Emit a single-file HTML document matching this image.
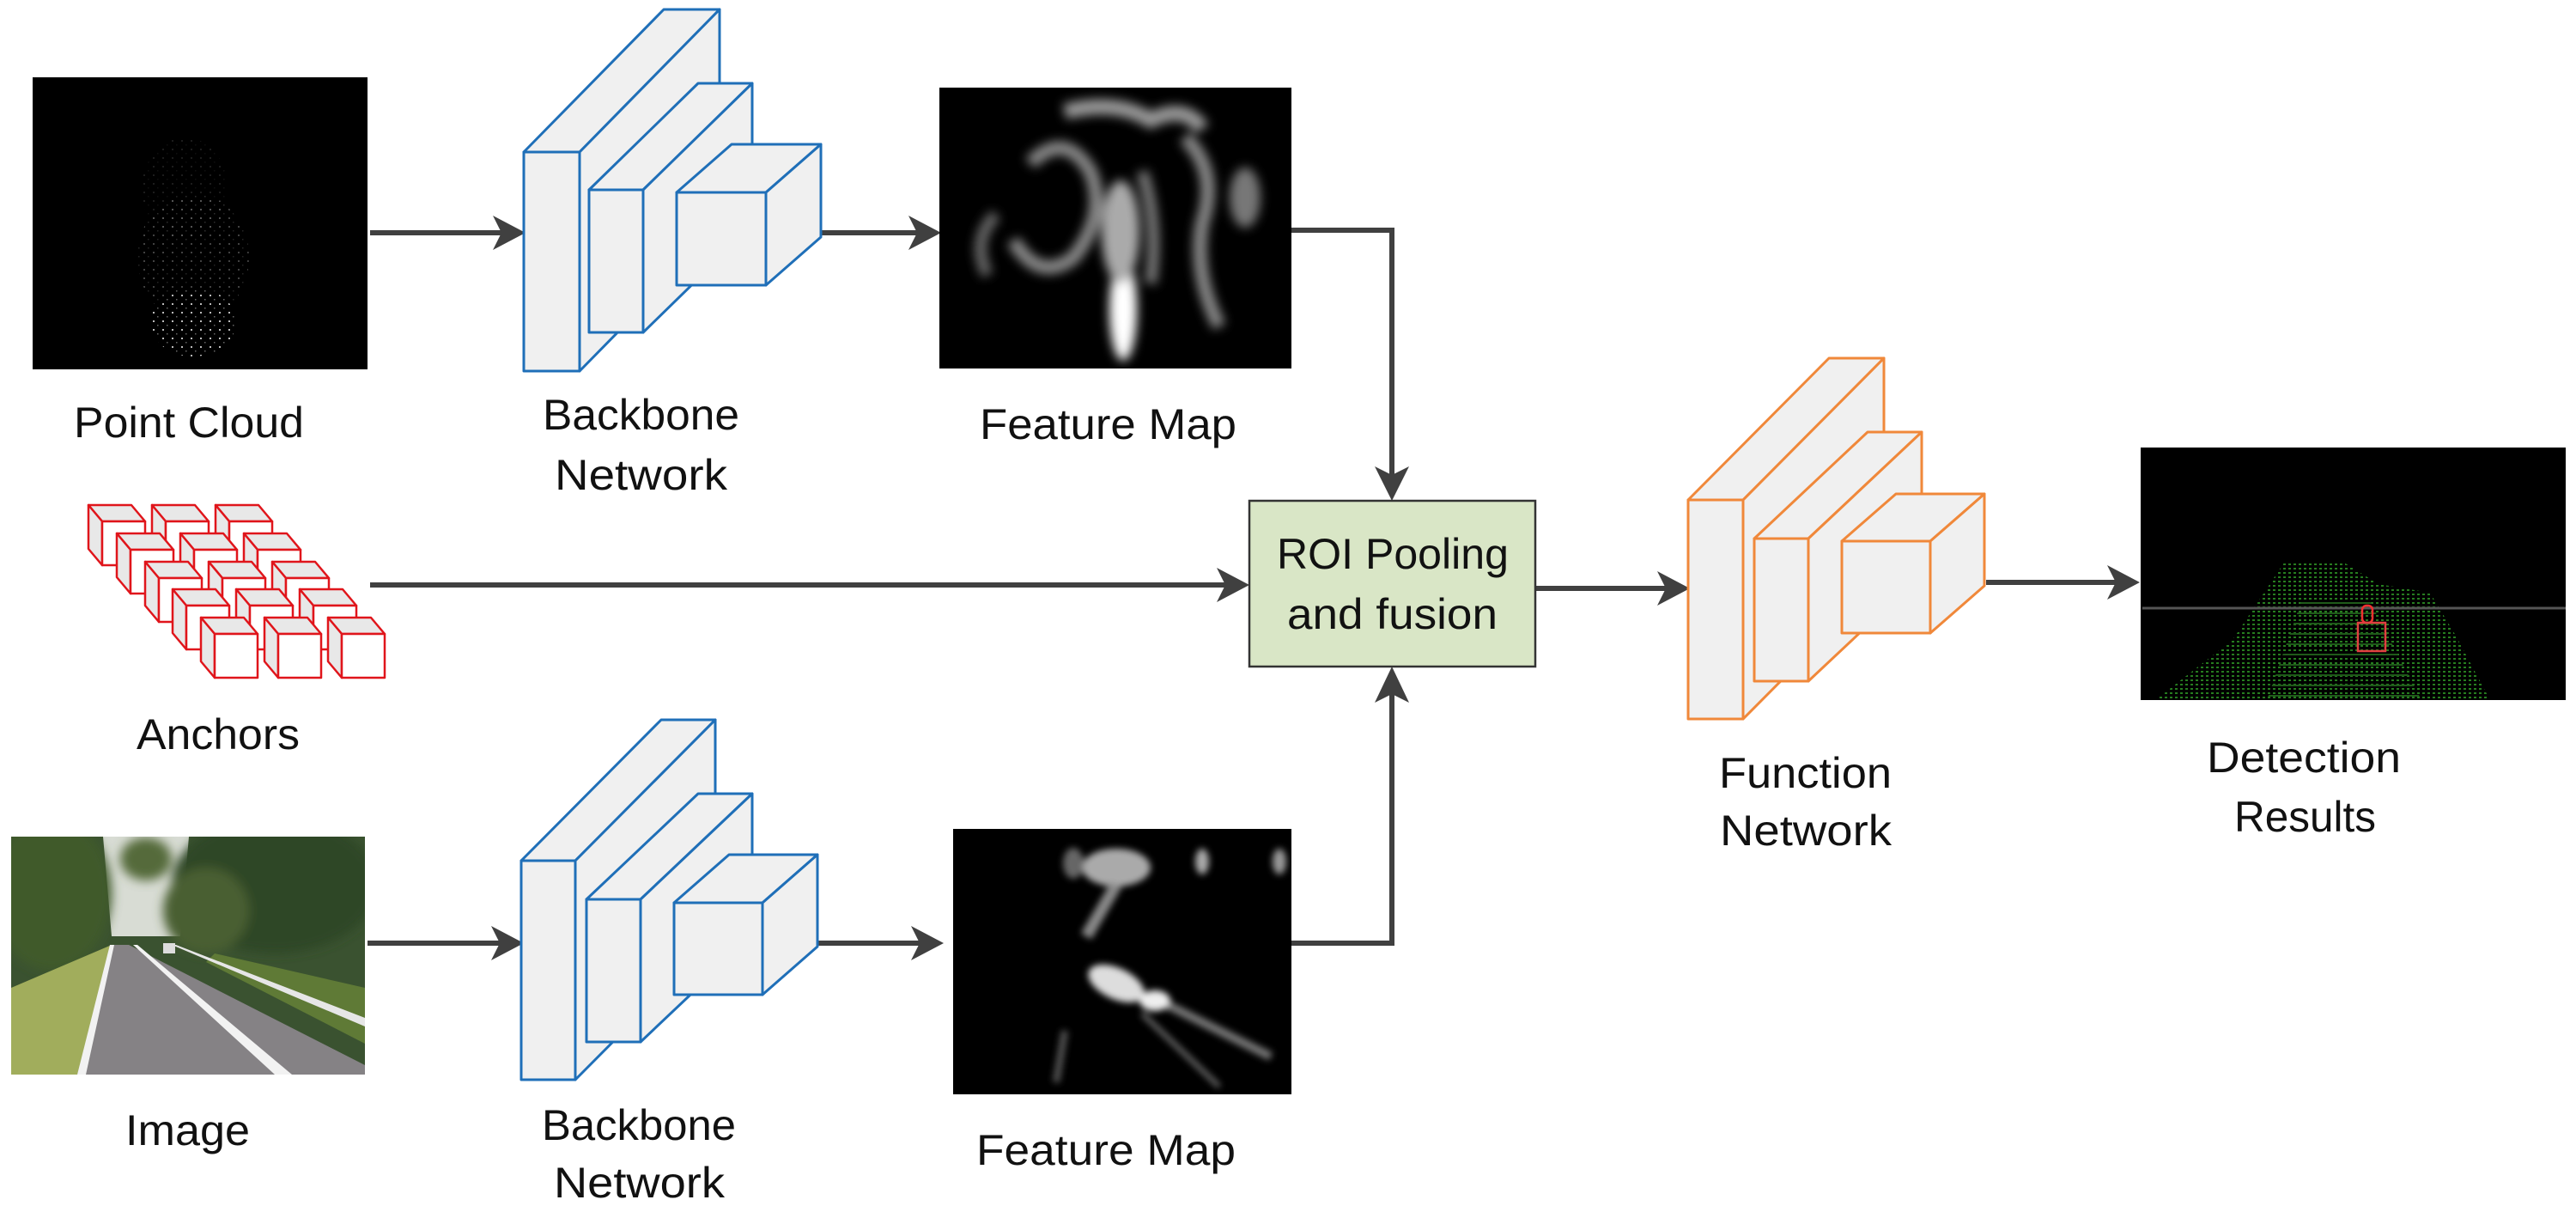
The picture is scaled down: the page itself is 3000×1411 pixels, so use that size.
<!DOCTYPE html>
<html><head><meta charset="utf-8"><style>
html,body{margin:0;padding:0;background:#fff;}
svg{display:block}
text{font-family:"Liberation Sans",sans-serif;font-size:50px;fill:#111;}
</style></head><body>
<svg width="3000" height="1411" viewBox="0 0 3000 1411" xmlns="http://www.w3.org/2000/svg">
<defs>
<filter id="b4" x="-20%" y="-20%" width="140%" height="140%"><feGaussianBlur stdDeviation="4"/></filter>
<filter id="b6" x="-20%" y="-20%" width="140%" height="140%"><feGaussianBlur stdDeviation="6"/></filter>
<pattern id="dots" width="11" height="10" patternUnits="userSpaceOnUse"><rect x="2" y="3" width="2" height="2" fill="#bbb"/><rect x="7" y="8" width="1.5" height="1.5" fill="#666"/></pattern>
<pattern id="gdots" width="6" height="5" patternUnits="userSpaceOnUse"><rect x="1" y="1" width="3" height="2" fill="#2a8a22"/></pattern>
<pattern id="glines" width="10" height="12" patternUnits="userSpaceOnUse"><rect x="0" y="5" width="10" height="2" fill="#1f5a1a"/></pattern>
<clipPath id="pcclip"><rect x="38" y="90" width="390" height="340"/></clipPath>
<clipPath id="imclip"><rect x="13" y="974" width="412" height="277"/></clipPath>
</defs>

<!-- Point cloud -->
<rect x="38" y="90" width="390" height="340" fill="#000"/>
<g clip-path="url(#pcclip)">
<ellipse cx="225" cy="375" rx="50" ry="40" fill="url(#dots)"/>
<ellipse cx="225" cy="300" rx="65" ry="75" fill="url(#dots)" opacity="0.35"/>
<ellipse cx="215" cy="220" rx="50" ry="60" fill="url(#dots)" opacity="0.15"/>
</g>
<text x="86" y="509" textLength="268" lengthAdjust="spacingAndGlyphs">Point Cloud</text>

<!-- arrows -->
<g stroke="#404040" stroke-width="6" fill="none">
<line x1="431" y1="271" x2="585" y2="271"/>
<line x1="956" y1="271" x2="1070" y2="271"/>
<polyline points="1504,268 1621,268 1621,555"/>
<line x1="431" y1="681" x2="1428" y2="681"/>
<line x1="1788" y1="685" x2="1940" y2="685"/>
<line x1="2313" y1="678" x2="2465" y2="678"/>
<line x1="428" y1="1098" x2="583" y2="1098"/>
<line x1="953" y1="1098" x2="1072" y2="1098"/>
<polyline points="1504,1098 1621,1098 1621,805"/>
</g>
<g fill="#404040">
<polygon points="612,271 574,251 584,271 574,291"/>
<polygon points="1096,271 1058,251 1068,271 1058,291"/>
<polygon points="1621,583 1601,543 1621,553 1641,543"/>
<polygon points="1455,681 1417,661 1427,681 1417,701"/>
<polygon points="1968,685 1930,665 1940,685 1930,705"/>
<polygon points="2492,678 2454,658 2464,678 2454,698"/>
<polygon points="610,1098 572,1078 582,1098 572,1118"/>
<polygon points="1099,1098 1061,1078 1071,1098 1061,1118"/>
<polygon points="1621,776 1601,818 1621,808 1641,818"/>
</g>

<!-- Backbone top -->
<g fill="#f0f0f0" stroke="#1f6fb8" stroke-width="3" stroke-linejoin="round">
<polygon points="610,177 675,177 838,11 773,11"/><polygon points="675,177 838,11 838,266 675,432"/><rect x="610" y="177" width="65" height="255"/>
<polygon points="686,221 749,221 876,97 813,97"/><polygon points="749,221 876,97 876,263 749,387"/><rect x="686" y="221" width="63" height="166"/>
<polygon points="788,224 892,224 956,168 852,168"/><polygon points="892,224 956,168 956,276 892,332"/><rect x="788" y="224" width="104" height="108"/>
</g>
<text x="632" y="500" textLength="229" lengthAdjust="spacingAndGlyphs">Backbone</text>
<text x="646" y="570" textLength="201" lengthAdjust="spacingAndGlyphs">Network</text>

<!-- Feature map top -->
<rect x="1094" y="102" width="410" height="327" fill="#000"/>
<g filter="url(#b6)">
<ellipse cx="1308" cy="360" rx="16" ry="60" fill="#fff"/>
<ellipse cx="1305" cy="270" rx="22" ry="60" fill="#aaa"/>
<path d="M1200 190 Q1240 150 1270 200 Q1290 250 1250 300 Q1210 330 1180 280" fill="none" stroke="#888" stroke-width="16"/>
<path d="M1380 160 Q1420 200 1400 260 Q1390 320 1420 380" fill="none" stroke="#888" stroke-width="16"/>
<path d="M1240 130 Q1300 115 1340 140 Q1380 120 1400 150" fill="none" stroke="#999" stroke-width="18"/>
<path d="M1330 200 Q1350 260 1340 330" fill="none" stroke="#777" stroke-width="14"/>
<path d="M1160 250 Q1130 280 1150 320" fill="none" stroke="#666" stroke-width="14"/>
<ellipse cx="1450" cy="230" rx="18" ry="35" fill="#777"/>
</g>
<text x="1141" y="511" textLength="299" lengthAdjust="spacingAndGlyphs">Feature Map</text>

<!-- Anchors -->
<g stroke="#e0151b" stroke-width="2.5" stroke-linejoin="round">
<g>
<g><polygon fill="#e8e8e8" points="119,607 169,607 153,588 103,588"/><polygon fill="#e8e8e8" points="119,607 103,588 103,639 119,658"/><rect fill="#fff" x="119" y="607" width="50" height="51"/></g>
<g><polygon fill="#e8e8e8" points="193,607 243,607 227,588 177,588"/><polygon fill="#e8e8e8" points="193,607 177,588 177,639 193,658"/><rect fill="#fff" x="193" y="607" width="50" height="51"/></g>
<g><polygon fill="#e8e8e8" points="267,607 317,607 301,588 251,588"/><polygon fill="#e8e8e8" points="267,607 251,588 251,639 267,658"/><rect fill="#fff" x="267" y="607" width="50" height="51"/></g>
</g>
<g transform="translate(33,33)">
<g><polygon fill="#e8e8e8" points="119,607 169,607 153,588 103,588"/><polygon fill="#e8e8e8" points="119,607 103,588 103,639 119,658"/><rect fill="#fff" x="119" y="607" width="50" height="51"/></g>
<g><polygon fill="#e8e8e8" points="193,607 243,607 227,588 177,588"/><polygon fill="#e8e8e8" points="193,607 177,588 177,639 193,658"/><rect fill="#fff" x="193" y="607" width="50" height="51"/></g>
<g><polygon fill="#e8e8e8" points="267,607 317,607 301,588 251,588"/><polygon fill="#e8e8e8" points="267,607 251,588 251,639 267,658"/><rect fill="#fff" x="267" y="607" width="50" height="51"/></g>
</g>
<g transform="translate(66,66)">
<g><polygon fill="#e8e8e8" points="119,607 169,607 153,588 103,588"/><polygon fill="#e8e8e8" points="119,607 103,588 103,639 119,658"/><rect fill="#fff" x="119" y="607" width="50" height="51"/></g>
<g><polygon fill="#e8e8e8" points="193,607 243,607 227,588 177,588"/><polygon fill="#e8e8e8" points="193,607 177,588 177,639 193,658"/><rect fill="#fff" x="193" y="607" width="50" height="51"/></g>
<g><polygon fill="#e8e8e8" points="267,607 317,607 301,588 251,588"/><polygon fill="#e8e8e8" points="267,607 251,588 251,639 267,658"/><rect fill="#fff" x="267" y="607" width="50" height="51"/></g>
</g>
<g transform="translate(98,98)">
<g><polygon fill="#e8e8e8" points="119,607 169,607 153,588 103,588"/><polygon fill="#e8e8e8" points="119,607 103,588 103,639 119,658"/><rect fill="#fff" x="119" y="607" width="50" height="51"/></g>
<g><polygon fill="#e8e8e8" points="193,607 243,607 227,588 177,588"/><polygon fill="#e8e8e8" points="193,607 177,588 177,639 193,658"/><rect fill="#fff" x="193" y="607" width="50" height="51"/></g>
<g><polygon fill="#e8e8e8" points="267,607 317,607 301,588 251,588"/><polygon fill="#e8e8e8" points="267,607 251,588 251,639 267,658"/><rect fill="#fff" x="267" y="607" width="50" height="51"/></g>
</g>
<g transform="translate(131,131)">
<g><polygon fill="#e8e8e8" points="119,607 169,607 153,588 103,588"/><polygon fill="#e8e8e8" points="119,607 103,588 103,639 119,658"/><rect fill="#fff" x="119" y="607" width="50" height="51"/></g>
<g><polygon fill="#e8e8e8" points="193,607 243,607 227,588 177,588"/><polygon fill="#e8e8e8" points="193,607 177,588 177,639 193,658"/><rect fill="#fff" x="193" y="607" width="50" height="51"/></g>
<g><polygon fill="#e8e8e8" points="267,607 317,607 301,588 251,588"/><polygon fill="#e8e8e8" points="267,607 251,588 251,639 267,658"/><rect fill="#fff" x="267" y="607" width="50" height="51"/></g>
</g>
</g>
<text x="159" y="872" textLength="190" lengthAdjust="spacingAndGlyphs">Anchors</text>

<!-- ROI box -->
<rect x="1455" y="583" width="333" height="193" fill="#d9e6c6" stroke="#333" stroke-width="2.5"/>
<text x="1487" y="662" textLength="270" lengthAdjust="spacingAndGlyphs">ROI Pooling</text>
<text x="1499" y="732" textLength="245" lengthAdjust="spacingAndGlyphs">and fusion</text>

<!-- Function network -->
<g fill="#f0f0f0" stroke="#f0883a" stroke-width="3" stroke-linejoin="round">
<polygon points="1966,582 2030,582 2194,417 2130,417"/><polygon points="2030,582 2194,417 2194,672 2030,837"/><rect x="1966" y="582" width="64" height="255"/>
<polygon points="2043,627 2106,627 2238,503 2175,503"/><polygon points="2106,627 2238,503 2238,669 2106,793"/><rect x="2043" y="627" width="63" height="166"/>
<polygon points="2145,630 2248,630 2311,575 2208,575"/><polygon points="2248,630 2311,575 2311,682 2248,737"/><rect x="2145" y="630" width="103" height="107"/>
</g>
<text x="2002" y="917" textLength="201" lengthAdjust="spacingAndGlyphs">Function</text>
<text x="2003" y="984" textLength="200" lengthAdjust="spacingAndGlyphs">Network</text>

<!-- Detection -->
<rect x="2493" y="521" width="495" height="294" fill="#000"/>
<polygon points="2510,815 2600,745 2660,655 2730,655 2770,680 2830,690 2860,740 2900,815" fill="url(#gdots)" opacity="0.9"/>
<polygon points="2640,815 2680,700 2760,700 2820,815" fill="url(#glines)"/>
<line x1="2495" y1="708" x2="2988" y2="708" stroke="#555" stroke-width="3"/>
<rect x="2751" y="705" width="12" height="20" rx="5" fill="none" stroke="#f03030" stroke-width="2.5"/>
<rect x="2746" y="725" width="32" height="33" fill="none" stroke="#e04040" stroke-width="2.5"/>
<text x="2570" y="899" textLength="226" lengthAdjust="spacingAndGlyphs">Detection</text>
<text x="2602" y="968" textLength="165" lengthAdjust="spacingAndGlyphs">Results</text>

<!-- Image -->
<g clip-path="url(#imclip)">
<rect x="13" y="974" width="412" height="277" fill="#3a5230"/>
<polygon points="120,974 220,974 210,1090 130,1090" fill="#d8dcd4"/>
<g filter="url(#b6)">
<ellipse cx="60" cy="1040" rx="70" ry="90" fill="#3f5a2c"/>
<ellipse cx="320" cy="1030" rx="120" ry="80" fill="#2f4726"/>
<ellipse cx="240" cy="1060" rx="50" ry="50" fill="#4a5f30"/>
<ellipse cx="170" cy="1000" rx="30" ry="25" fill="#556b3a"/>
</g>
<polygon points="13,1150 130,1100 120,1251 13,1251" fill="#a1ad5c"/>
<polygon points="250,1110 425,1150 425,1215 240,1120" fill="#5f7a36"/>
<polygon points="90,1251 130,1100 150,1100 425,1240 425,1251" fill="#858285"/>
<polygon points="90,1251 128,1100 133,1100 100,1251" fill="#f2f2f2"/>
<polygon points="320,1251 155,1100 160,1100 340,1251" fill="#f2f2f2"/>
<polygon points="425,1195 200,1100 205,1100 425,1185" fill="#e6e6e6"/>
<rect x="190" y="1098" width="14" height="12" fill="#ddd"/>
</g>
<text x="146" y="1333" textLength="145" lengthAdjust="spacingAndGlyphs">Image</text>

<!-- Backbone bottom -->
<g fill="#f0f0f0" stroke="#1f6fb8" stroke-width="3" stroke-linejoin="round">
<polygon points="607,1002 670,1002 833,838 770,838"/><polygon points="670,1002 833,838 833,1093 670,1257"/><rect x="607" y="1002" width="63" height="255"/>
<polygon points="683,1047 746,1047 876,924 813,924"/><polygon points="746,1047 876,924 876,1090 746,1213"/><rect x="683" y="1047" width="63" height="166"/>
<polygon points="785,1051 888,1051 952,995 849,995"/><polygon points="888,1051 952,995 952,1102 888,1158"/><rect x="785" y="1051" width="103" height="107"/>
</g>
<text x="631" y="1327" textLength="226" lengthAdjust="spacingAndGlyphs">Backbone</text>
<text x="645" y="1394" textLength="199" lengthAdjust="spacingAndGlyphs">Network</text>

<!-- Feature map bottom -->
<rect x="1110" y="965" width="394" height="309" fill="#000"/>
<g filter="url(#b4)">
<ellipse cx="1300" cy="1010" rx="40" ry="22" fill="#aaa"/>
<ellipse cx="1400" cy="1003" rx="8" ry="15" fill="#aaa"/>
<ellipse cx="1490" cy="1003" rx="8" ry="15" fill="#999"/>
<ellipse cx="1250" cy="1005" rx="12" ry="18" fill="#666"/>
<line x1="1265" y1="1090" x2="1300" y2="1030" stroke="#888" stroke-width="14"/>
<ellipse cx="1300" cy="1145" rx="35" ry="18" fill="#ddd" transform="rotate(25 1300 1145)"/>
<ellipse cx="1345" cy="1165" rx="18" ry="12" fill="#eee"/>
<line x1="1360" y1="1170" x2="1480" y2="1230" stroke="#777" stroke-width="10"/>
<line x1="1330" y1="1180" x2="1420" y2="1265" stroke="#666" stroke-width="6"/>
<line x1="1240" y1="1200" x2="1230" y2="1260" stroke="#555" stroke-width="8"/>
</g>
<text x="1137" y="1356" textLength="302" lengthAdjust="spacingAndGlyphs">Feature Map</text>
</svg>
</body></html>
